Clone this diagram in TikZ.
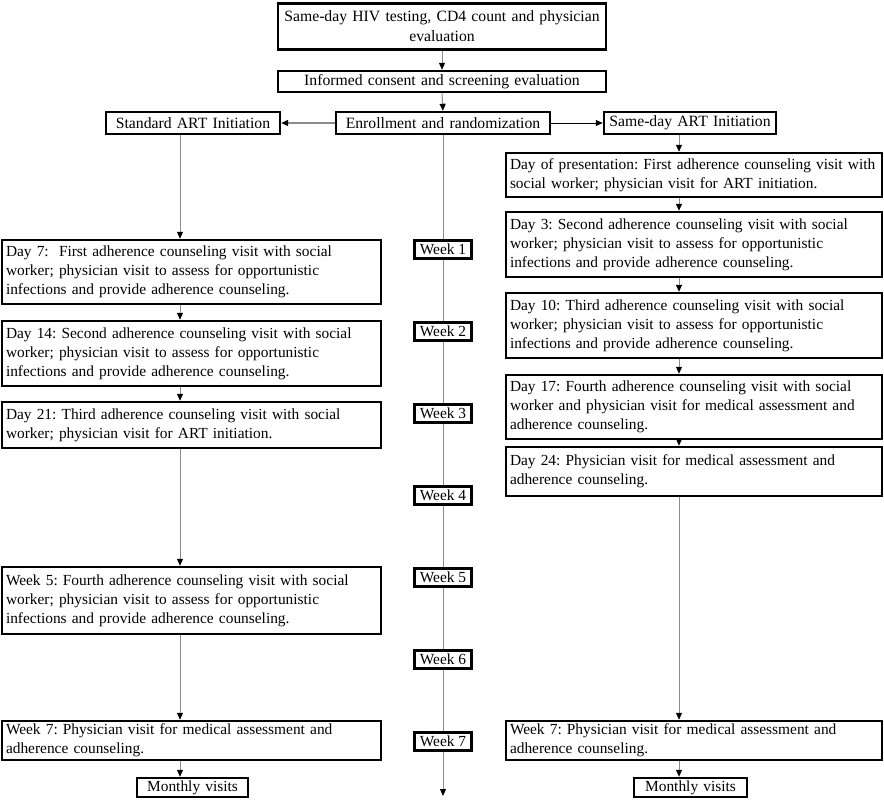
\documentclass[tikz,border=0pt]{standalone}
\usepackage{fontspec}
\setmainfont{Liberation Serif}
\usetikzlibrary{arrows.meta}
\definecolor{lgray}{RGB}{140,140,140}
\newcommand{\fs}{\fontsize{15.4}{19}\selectfont\frenchspacing}
\newcommand{\fsb}{\fontsize{15.7}{20}\selectfont\frenchspacing}
\tikzset{
  bx/.style={draw=black, line width=2.4pt, fill=white, inner xsep=4pt, inner ysep=0pt, align=left, font=\fs},
  wk/.style={draw=black, line width=2.2pt, fill=white, inner sep=0pt, minimum width=57pt, minimum height=18pt, font=\fs},
  conn/.style={draw=lgray, line width=1pt, -{Triangle[color=black,width=6pt,length=7pt]}}
}
\begin{document}
\begin{tikzpicture}[x=1pt,y=-1pt]
\useasboundingbox (0,0) rectangle (884,800);
% top
\node[bx, font=\fsb, align=center, text width=320pt, minimum height=46pt] (top) at (442,26.5) {Same-day HIV testing, CD4 count and physician\\evaluation};
\node[bx, font=\fsb, align=center, text width=320pt, minimum height=21pt] (inf) at (442,81.5) {Informed consent and screening evaluation};
\node[bx, font=\fsb, align=center, text width=206pt, minimum height=22pt] (enr) at (443,123) {Enrollment and randomization};
\node[bx, font=\fsb, align=center, text width=166pt, minimum height=22pt] (std) at (193,123) {Standard ART Initiation};
\node[bx, font=\fsb, align=center, text width=164pt, minimum height=22pt] (sd) at (690,123) {Same-day ART Initiation};
% coordinates for connector columns
\coordinate (lx) at (180,0);
\coordinate (rx) at (679,0);
\coordinate (cend) at (443,796);
% center timeline
\draw[conn] (enr.south) -- (cend);
% right column
\node[bx, text width=368pt, minimum height=44pt] (dop) at (694,175) {Day of presentation: First adherence counseling visit with\\social worker; physician visit for ART initiation.};
\node[bx, text width=368pt, minimum height=65pt] (d3) at (694,244.5) {Day 3: Second adherence counseling visit with social\\worker; physician visit to assess for opportunistic\\infections and provide adherence counseling.};
\node[bx, text width=368pt, minimum height=65pt] (d10) at (694,325.5) {Day 10: Third adherence counseling visit with social\\worker; physician visit to assess for opportunistic\\infections and provide adherence counseling.};
\node[bx, text width=368pt, minimum height=64pt] (d17) at (694,407) {Day 17: Fourth adherence counseling visit with social\\worker and physician visit for medical assessment and\\adherence counseling.};
\node[bx, text width=368pt, minimum height=49pt] (d24) at (694,471.5) {Day 24: Physician visit for medical assessment and\\adherence counseling.};
\node[bx, text width=368pt, minimum height=39pt] (rw7) at (694,740.5) {Week 7: Physician visit for medical assessment and\\adherence counseling.};
\node[bx, align=center, text width=105pt, minimum height=19pt] (rmv) at (690.5,787.5) {Monthly visits};
% left column
\node[bx, text width=371pt, minimum height=64pt] (d7) at (191.5,272) {Day 7:\ \ First adherence counseling visit with social\\worker; physician visit to assess for opportunistic\\infections and provide adherence counseling.};
\node[bx, text width=371pt, minimum height=65pt] (d14) at (191.5,353.5) {Day 14: Second adherence counseling visit with social\\worker; physician visit to assess for opportunistic\\infections and provide adherence counseling.};
\node[bx, text width=371pt, minimum height=46pt] (d21) at (191.5,425) {Day 21: Third adherence counseling visit with social\\worker; physician visit for ART initiation.};
\node[bx, text width=371pt, minimum height=67pt] (w5) at (191.5,600.5) {Week 5: Fourth adherence counseling visit with social\\worker; physician visit to assess for opportunistic\\infections and provide adherence counseling.};
\node[bx, text width=371pt, minimum height=39pt] (lw7) at (191.5,740.5) {Week 7: Physician visit for medical assessment and\\adherence counseling.};
\node[bx, align=center, text width=103pt, minimum height=19pt] (lmv) at (192.5,787.5) {Monthly visits};
% week labels
\node[wk] (wk1) at (443,249.5) {Week 1};
\node[wk] (wk2) at (443,331.5) {Week 2};
\node[wk] (wk3) at (443,413.5) {Week 3};
\node[wk] (wk4) at (443,495.5) {Week 4};
\node[wk] (wk5) at (443,577.5) {Week 5};
\node[wk] (wk6) at (443,659.5) {Week 6};
\node[wk] (wk7) at (443,741.5) {Week 7};
% connectors top
\draw[conn] (top.south) -- (inf.north);
\draw[conn] (inf.south) -- (enr.north);
\draw[conn, line width=1.5pt] (enr.west) -- (std.east);
\draw[conn, draw=black] (enr.east) -- (sd.west);
% left connectors
\draw[conn] (lx |- std.south) -- (lx |- d7.north);
\draw[conn] (lx |- d7.south) -- (lx |- d14.north);
\draw[conn] (lx |- d14.south) -- (lx |- d21.north);
\draw[conn] (lx |- d21.south) -- (lx |- w5.north);
\draw[conn] (lx |- w5.south) -- (lx |- lw7.north);
\draw[conn] (lx |- lw7.south) -- (lx |- lmv.north);
% right connectors
\draw[conn] (rx |- sd.south) -- (rx |- dop.north);
\draw[conn] (rx |- dop.south) -- (rx |- d3.north);
\draw[conn] (rx |- d3.south) -- (rx |- d10.north);
\draw[conn] (rx |- d10.south) -- (rx |- d17.north);
\draw[conn] (rx |- d17.south) -- (rx |- d24.north);
\draw[conn] (rx |- d24.south) -- (rx |- rw7.north);
\draw[conn] (rx |- rw7.south) -- (rx |- rmv.north);
\end{tikzpicture}
\end{document}
